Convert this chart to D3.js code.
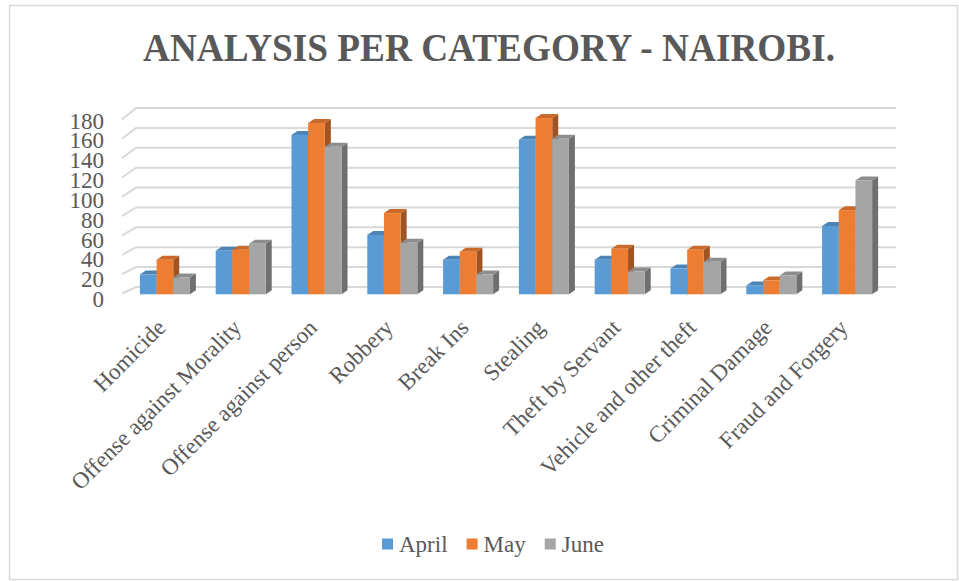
<!DOCTYPE html>
<html>
<head>
<meta charset="utf-8">
<script src="https://cdn.jsdelivr.net/npm/d3@7"></script>
<style>
  html, body { margin: 0; padding: 0; background: #fff; }
  svg { display: block; }
  text { font-family: "Liberation Serif", "Times New Roman", serif; fill: #595959; }
</style>
</head>
<body>
<svg id="chart" width="959" height="581"></svg>
<script>
// chart values
var categories = ["Homicide", "Offense against Morality", "Offense against person", "Robbery",
                  "Break Ins", "Stealing", "Theft by Servant", "Vehicle and other theft",
                  "Criminal Damage", "Fraud and Forgery"];
var seriesNames = ["April", "May", "June"];
var april = [20, 44, 161, 60, 35, 156, 35, 26, 9, 69];
var may   = [35, 45, 173, 82, 43, 178, 46, 45, 14, 85];
var june  = [17, 51, 149, 52, 20, 157, 23, 33, 19, 115];
var yTicks = [0, 20, 40, 60, 80, 100, 120, 140, 160, 180];
var colors = ["#5b9bd5", "#ed7d31", "#a5a5a5"];

var series = [april, may, june];

var svg = d3.select("#chart");

// outer chart border
svg.append("rect")
  .attr("x", 9.5).attr("y", 5.5)
  .attr("width", 948).attr("height", 574)
  .attr("fill", "none").attr("stroke", "#d9d9d9").attr("stroke-width", 1.5);

// title
svg.append("text")
  .attr("x", 489).attr("y", 61)
  .attr("text-anchor", "middle")
  .attr("textLength", 692).attr("lengthAdjust", "spacingAndGlyphs")
  .style("font-size", "39px").style("font-weight", "bold")
  .text("ANALYSIS PER CATEGORY - NAIROBI.");

// scales: back wall, left wall front edge, bar front faces
var yBack = d3.scaleLinear().domain([0, 180]).range([287, 108]);
var yWall = d3.scaleLinear().domain([0, 180]).range([293.5, 119.5]);
var yFront = d3.scaleLinear().domain([0, 180]).range([294.3, 116.1]);
var yLabel = d3.scaleLinear().domain([0, 180]).range([299.3, 120.7]);

var x = d3.scaleBand().domain(categories).range([127, 885])
  .paddingInner(0.34).paddingOuter(0.17);
var xs = d3.scaleBand().domain(seriesNames).range([0, x.bandwidth()]);

var wallX0 = 122, backX0 = 136, backX1 = 896;
var depthX = 6, depthY = -4;

// gridlines on the back wall plus the slanted piece on the left side wall
var grid = svg.append("g").attr("stroke", "#d9d9d9").attr("stroke-width", 2).attr("fill", "none");
grid.selectAll("path").data(yTicks).join("path")
  .attr("d", function(v) {
    return "M" + wallX0 + "," + yWall(v) + "L" + backX0 + "," + yBack(v) + "L" + backX1 + "," + yBack(v);
  });

// y axis labels
var yAxis = svg.append("g")
  .attr("transform", "translate(104,0)")
  .call(d3.axisLeft(yLabel).tickValues(yTicks).tickSize(0).tickPadding(0));
yAxis.select(".domain").remove();
yAxis.selectAll("text")
  .style("font-family", "'Liberation Serif', 'Times New Roman', serif")
  .style("font-size", "23px").attr("fill", "#595959");

// 3d bars
var bars = svg.append("g");
categories.forEach(function(cat, ci) {
  seriesNames.forEach(function(name, si) {
    var v = series[si][ci];
    var x0 = x(cat) + xs(name), w = xs.bandwidth();
    var y0 = yFront(0), y1 = yFront(v);
    var base = d3.color(colors[si]);
    var g = bars.append("g");
    g.append("path")
      .attr("fill", base.darker(1.1))
      .attr("d", "M" + (x0 + w) + "," + y1 + "L" + (x0 + w + depthX) + "," + (y1 + depthY) +
                 "L" + (x0 + w + depthX) + "," + (y0 + depthY) + "L" + (x0 + w) + "," + y0 + "Z");
    g.append("path")
      .attr("fill", base.darker(0.45))
      .attr("d", "M" + x0 + "," + y1 + "L" + (x0 + w) + "," + y1 +
                 "L" + (x0 + w + depthX) + "," + (y1 + depthY) + "L" + (x0 + depthX) + "," + (y1 + depthY) + "Z");
    g.append("rect")
      .attr("x", x0).attr("y", y1)
      .attr("width", w).attr("height", y0 - y1)
      .attr("fill", colors[si]);
  });
});

// rotated category labels
svg.append("g").selectAll("text").data(categories).join("text")
  .attr("text-anchor", "end")
  .style("font-size", "23px")
  .attr("transform", function(d) {
    return "translate(" + (x(d) + x.bandwidth() / 2 + 2) + ",329) rotate(-45)";
  })
  .text(function(d) { return d; });

// legend
var legend = svg.append("g");
var lx = 382;
seriesNames.forEach(function(name, i) {
  legend.append("rect")
    .attr("x", lx).attr("y", 538.5)
    .attr("width", 11).attr("height", 11)
    .attr("fill", colors[i]);
  var t = legend.append("text")
    .attr("x", lx + 17).attr("y", 552)
    .style("font-size", "23px")
    .text(name);
  lx += 17 + t.node().getComputedTextLength() + 19;
});
</script>
</body>
</html>
